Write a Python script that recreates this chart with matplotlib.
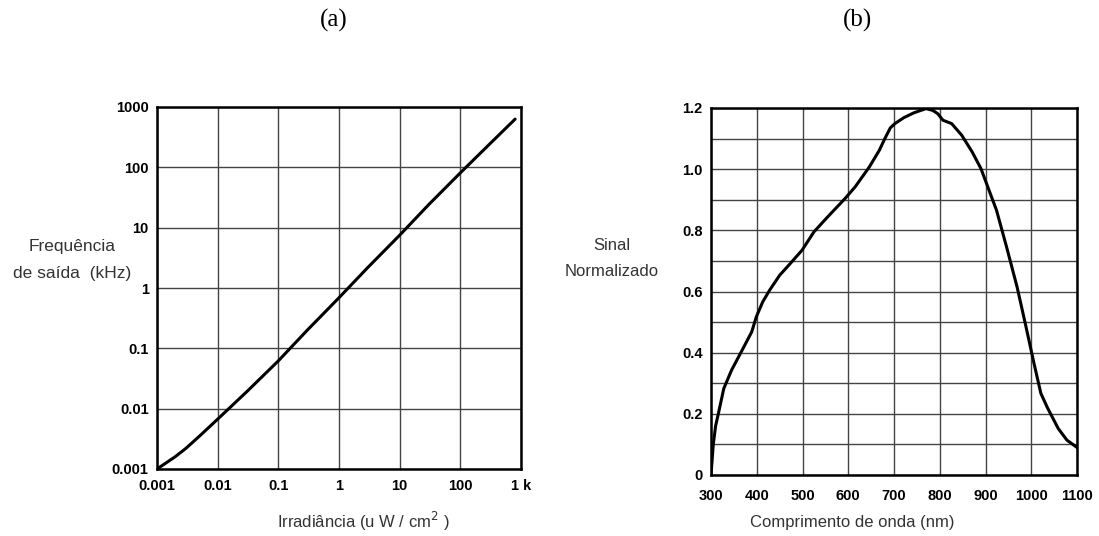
import matplotlib
matplotlib.use("Agg")
import matplotlib.pyplot as plt
from matplotlib.ticker import FixedLocator, FixedFormatter, NullLocator

# ---- data (a) ----
irradiance = [0.001, 0.002, 0.003, 0.005, 0.01, 0.03, 0.1, 0.3, 1, 3, 10, 30, 100, 300, 800]
frequency = [0.001, 0.0016, 0.0022, 0.0035, 0.0067, 0.019, 0.062, 0.2, 0.69, 2.2, 7.5, 24, 81, 240, 630]
a_xticks = [0.001, 0.01, 0.1, 1, 10, 100, 1000]
a_xlabels = ["0.001", "0.01", "0.1", "1", "10", "100", "1 k"]
a_yticks = [0.001, 0.01, 0.1, 1, 10, 100, 1000]
a_ylabels = ["0.001", "0.01", "0.1", "1", "10", "100", "1000"]

# ---- data (b) ----
wavelength = [300, 305, 310, 316, 328, 345, 368, 389, 399, 413, 428, 450, 473, 499, 525,
              555, 593, 615, 646, 668, 680, 692, 702, 721, 743, 770, 785, 796, 807, 826, 848,
              871, 890, 905, 924, 946, 969, 987, 1006, 1021, 1036, 1059, 1078, 1100]
signal = [0.0, 0.10, 0.16, 0.20, 0.283, 0.343, 0.408, 0.468, 0.517, 0.566, 0.604, 0.653,
          0.691, 0.735, 0.795, 0.844, 0.904, 0.942, 1.007, 1.062, 1.100, 1.135, 1.149, 1.168,
          1.184, 1.198, 1.192, 1.181, 1.160, 1.149, 1.111, 1.056, 1.002, 0.942, 0.866, 0.746,
          0.615, 0.495, 0.365, 0.267, 0.218, 0.152, 0.114, 0.090]
b_xticks = [300, 400, 500, 600, 700, 800, 900, 1000, 1100]
b_ymajor = [0, 0.2, 0.4, 0.6, 0.8, 1.0, 1.2]
b_ylabels = ["0", "0.2", "0.4", "0.6", "0.8", "1.0", "1.2"]
b_yminor = [0.1, 0.3, 0.5, 0.7, 0.9, 1.1]

W, H = 1099, 536
fig = plt.figure(figsize=(W / 100, H / 100), dpi=100)
sans = "Liberation Sans"
serif = "Liberation Serif"
label_color = "#333333"
grid_color = "#444444"

def frac(x0, y0, x1, y1):
    return [x0 / W, 1 - y1 / H, (x1 - x0) / W, (y1 - y0) / H]

# ----- (a) -----
axa = fig.add_axes(frac(157, 107, 521, 469))
axa.plot(irradiance, frequency, color="black", lw=2.2, solid_capstyle="round",
         solid_joinstyle="round")
axa.set_xscale("log")
axa.set_yscale("log")
axa.set_xlim(0.001, 1000)
axa.set_ylim(0.001, 1000)
axa.xaxis.set_major_locator(FixedLocator(a_xticks))
axa.xaxis.set_major_formatter(FixedFormatter(a_xlabels))
axa.yaxis.set_major_locator(FixedLocator(a_yticks))
axa.yaxis.set_major_formatter(FixedFormatter(a_ylabels))
axa.xaxis.set_minor_locator(NullLocator())
axa.yaxis.set_minor_locator(NullLocator())
axa.grid(True, which="major", color=grid_color, lw=1.0)
axa.tick_params(axis="x", which="both", length=0, pad=7)
axa.tick_params(axis="y", which="both", length=0, pad=6)

# ----- (b) -----
axb = fig.add_axes(frac(711, 108, 1077, 475))
axb.plot(wavelength, signal, color="black", lw=2.2, solid_joinstyle="round")
axb.set_xlim(300, 1100)
axb.set_ylim(0, 1.2)
axb.xaxis.set_major_locator(FixedLocator(b_xticks))
axb.yaxis.set_major_locator(FixedLocator(b_ymajor))
axb.yaxis.set_major_formatter(FixedFormatter(b_ylabels))
axb.yaxis.set_minor_locator(FixedLocator(b_yminor))
axb.grid(True, which="both", color=grid_color, lw=1.0)
axb.tick_params(axis="x", which="both", length=0, pad=10)
axb.tick_params(axis="y", which="both", length=0, pad=6)

for ax in (axa, axb):
    ax.set_axisbelow(True)
    for s in ax.spines.values():
        s.set_linewidth(1.8)
        s.set_color("black")
    for lab in ax.get_xticklabels() + ax.get_yticklabels():
        lab.set_fontfamily(sans)
        lab.set_fontweight("bold")
        lab.set_fontsize(10.5)

# axis labels
fig.text(72 / W, 1 - 247 / H, "Frequência", ha="center", va="center",
         fontsize=12.5, family=sans, color=label_color)
fig.text(72 / W, 1 - 273 / H, "de saída  (kHz)", ha="center", va="center",
         fontsize=12.5, family=sans, color=label_color)
fig.text(363 / W, 1 - 521 / H, r"Irradiância (u W / cm$^{2}$ )", ha="center",
         va="center", fontsize=12, family=sans, color=label_color)
fig.text(612 / W, 1 - 246 / H, "Sinal", ha="center", va="center",
         fontsize=12, family=sans, color=label_color)
fig.text(612 / W, 1 - 272 / H, "Normalizado", ha="center", va="center",
         fontsize=12, family=sans, color=label_color)
fig.text(852 / W, 1 - 522 / H, "Comprimento de onda (nm)", ha="center",
         va="center", fontsize=12, family=sans, color=label_color)

# panel titles
fig.text(334 / W, 1 - 20 / H, "(a)", ha="center", va="center", fontsize=18,
         family=serif, color="black")
fig.text(858 / W, 1 - 20 / H, "(b)", ha="center", va="center", fontsize=18,
         family=serif, color="black")

fig.savefig("out.png", dpi=100)
